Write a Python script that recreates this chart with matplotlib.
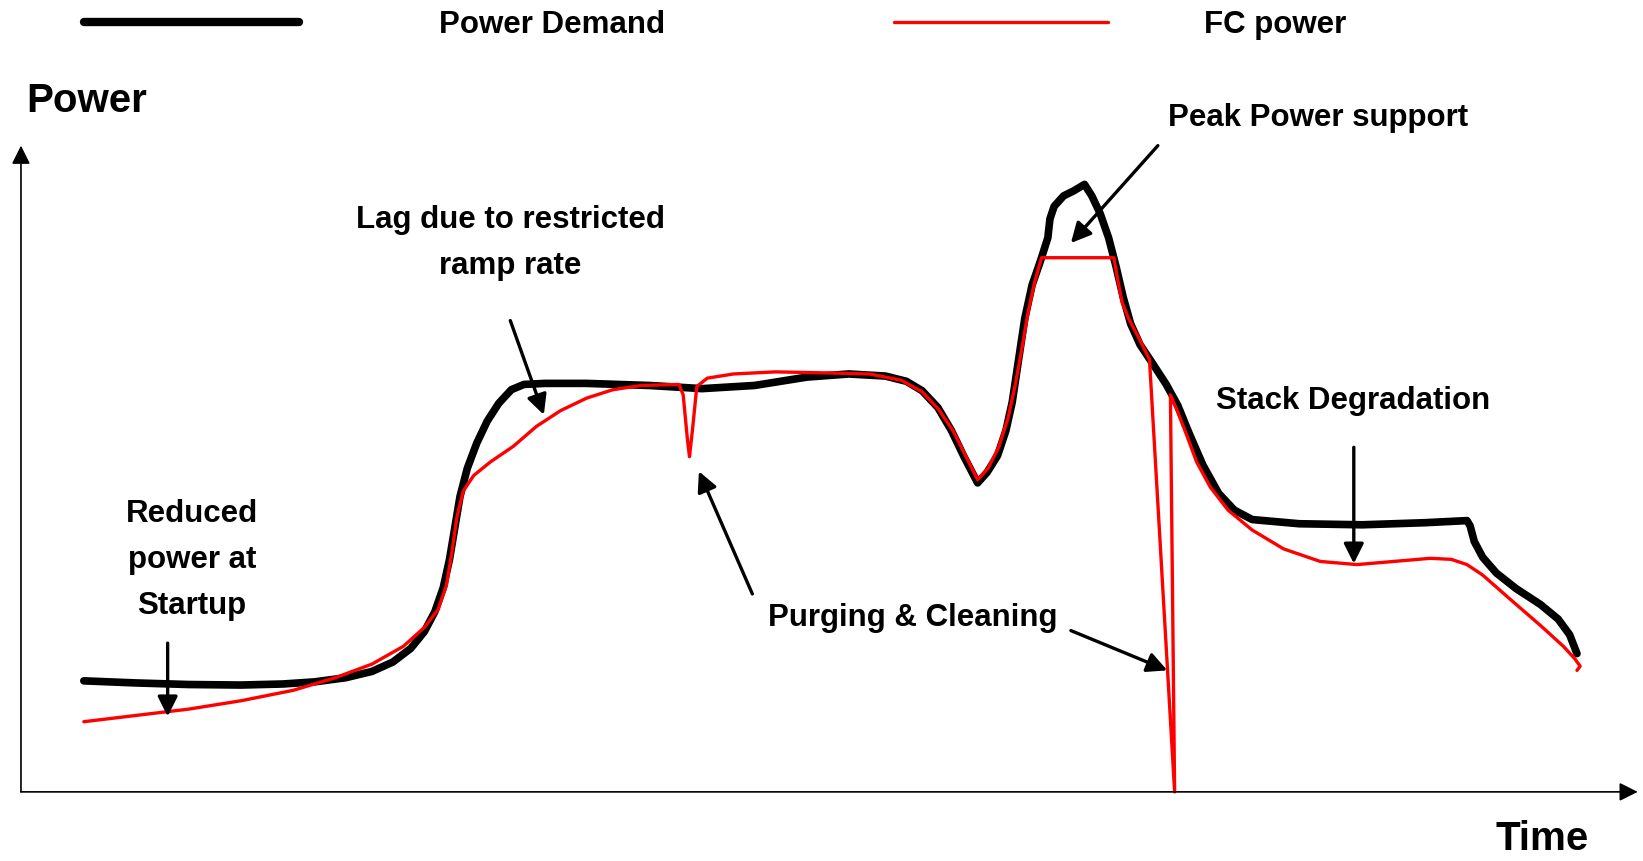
import matplotlib
matplotlib.use("Agg")
import matplotlib.pyplot as plt

# time / power in arbitrary units (origin at the axes corner)
demand_t = [60, 110, 160, 210, 250, 280, 310, 335, 355, 372, 385, 395, 403, 409, 414, 419, 426,
            435, 445, 456, 468, 480, 500, 540, 600, 650, 700, 750, 790, 825, 845, 860, 875, 888,
            900, 913, 922, 932, 940, 946, 952, 958, 965, 973, 980, 982, 986, 995, 1005, 1015,
            1022, 1030, 1038, 1045, 1052, 1059, 1068, 1080, 1093, 1104, 1115, 1128, 1143, 1158,
            1175, 1220, 1280, 1340, 1380, 1383, 1387, 1395, 1408, 1427, 1450, 1467, 1478, 1485]
demand_p = [106, 104, 102.5, 102, 103, 105, 109, 115, 124, 137, 153, 172, 195, 222, 252, 282,
            309, 333, 354, 371, 384, 389, 390, 390, 388, 385, 388, 396, 399, 397, 392, 383, 367,
            345, 320, 295, 305, 321, 345, 372, 412, 452, 484, 507, 529, 547, 559, 569, 574, 580,
            569, 552, 529, 502, 472, 447, 427, 409, 389, 369, 342, 312, 285, 269, 260, 256, 255,
            257, 259, 254, 239, 224, 209, 194, 179, 165, 150, 132]

fc_t = [60, 110, 160, 210, 260, 300, 335, 365, 385, 398, 406, 411, 416, 422, 432, 448, 470, 492,
        515, 540, 565, 592, 628, 632, 636, 638, 641, 645, 655, 680, 720, 770, 810, 840, 860, 876,
        890, 902, 913, 923, 933, 942, 949, 955, 961, 967, 974, 1043, 1047, 1051, 1057, 1066,
        1077, 1101, 1097, 1103, 1112, 1122, 1135, 1152, 1175, 1205, 1240, 1275, 1310, 1345,
        1365, 1380, 1395, 1420, 1450, 1472, 1483, 1488, 1485]
fc_p = [67, 73, 79, 87, 97, 109, 122, 139, 157, 174, 197, 227, 262, 287, 302, 315, 330, 349,
        364, 376, 384, 388, 389, 379, 337, 320, 347, 387, 395, 399, 401, 400, 399, 393, 382, 365,
        344, 320, 298, 309, 329, 357, 389, 422, 457, 485, 510, 510, 487, 467, 452, 435, 413, 0,
        379, 365, 342, 315, 291, 269, 250, 232, 220, 217, 220, 223, 222, 217, 207, 185, 159, 139,
        127, 120, 116]

legend_labels = ["Power Demand", "FC power"]

fig = plt.figure(figsize=(16.43, 8.62), dpi=100)
ax = fig.add_axes([0, 0, 1, 1])
ax.set_xlim(-20, 1548)
ax.set_ylim(-66, 757)
ax.axis("off")

font = ["Liberation Sans Narrow", "Liberation Sans", "DejaVu Sans"]

# axes with arrow heads
ax.annotate("", xy=(0, 617), xytext=(0, 0),
            arrowprops=dict(arrowstyle="-|>", lw=1.2, color="black", mutation_scale=28,
                            shrinkA=0, shrinkB=0))
ax.annotate("", xy=(1543, 0), xytext=(0, 0),
            arrowprops=dict(arrowstyle="-|>", lw=1.2, color="black", mutation_scale=28,
                            shrinkA=0, shrinkB=0))

ax.plot(demand_t, demand_p, color="black", lw=5.5, solid_joinstyle="round", solid_capstyle="round")
ax.plot(fc_t, fc_p, color="red", lw=2.4, solid_joinstyle="round", solid_capstyle="round")

# legend across the top
ax.plot([60, 265], [735, 735], color="black", lw=6, solid_capstyle="round")
ax.text(507, 733, legend_labels[0], ha="center", va="center", fontsize=22.5,
        fontweight="bold", family=font)
ax.plot([833, 1037], [735, 735], color="red", lw=2.4, solid_capstyle="round")
ax.text(1197, 733, legend_labels[1], ha="center", va="center", fontsize=22.5,
        fontweight="bold", family=font)

ax.text(5, 661, "Power", ha="left", va="center", fontsize=29, fontweight="bold", family=font)
ax.text(1452, -44, "Time", ha="center", va="center", fontsize=29, fontweight="bold", family=font)

kw = dict(fontsize=22.5, fontweight="bold", family=font, ha="center", va="center",
          linespacing=1.7)
arr = dict(arrowstyle="-|>", lw=2.4, color="black", mutation_scale=30, shrinkA=0, shrinkB=0)

ax.text(163, 222, "Reduced\npower at\nStartup", **kw)
ax.annotate("", xy=(140, 72), xytext=(140, 142), arrowprops=arr)

ax.text(467, 525, "Lag due to restricted\nramp rate", **kw)
ax.annotate("", xy=(499, 360), xytext=(467, 450), arrowprops=arr)

ax.text(851, 167, "Purging & Cleaning", **kw)
ax.annotate("", xy=(647, 306), xytext=(698, 189), arrowprops=arr)
ax.annotate("", xy=(1094, 116), xytext=(1002, 154), arrowprops=arr)

ax.text(1238, 644, "Peak Power support", **kw)
ax.annotate("", xy=(1002, 524), xytext=(1085, 617), arrowprops=arr)

ax.text(1271, 374, "Stack Degradation", **kw)
ax.annotate("", xy=(1272, 218), xytext=(1272, 329), arrowprops=arr)

fig.savefig("out.png", dpi=100)
